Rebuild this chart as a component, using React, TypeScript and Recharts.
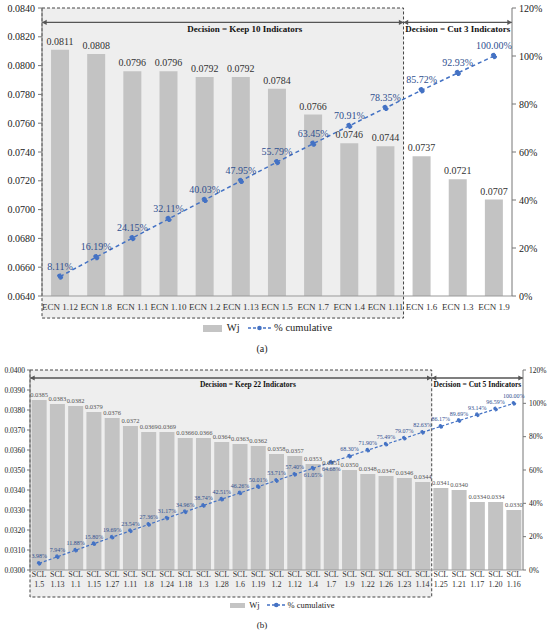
import {
  Bar,
  ComposedChart,
  LabelList,
  Line,
  ReferenceArea,
  XAxis,
  YAxis,
} from 'recharts';

const FONT = '"Liberation Serif", "Times New Roman", serif';

// (a) ECN indicators
const ecnNames = [
  'ECN 1.12', 'ECN 1.8', 'ECN 1.1', 'ECN 1.10', 'ECN 1.2', 'ECN 1.13', 'ECN 1.5',
  'ECN 1.7', 'ECN 1.4', 'ECN 1.11', 'ECN 1.6', 'ECN 1.3', 'ECN 1.9',
];
const ecnWeights = [
  0.0811, 0.0808, 0.0796, 0.0796, 0.0792, 0.0792, 0.0784, 0.0766, 0.0746, 0.0744,
  0.0737, 0.0721, 0.0707,
];
const ecnCumulative = [
  8.11, 16.19, 24.15, 32.11, 40.03, 47.95, 55.79, 63.45, 70.91, 78.35, 85.72, 92.93, 100.0,
];
const ecnLeftTicks = [0.064, 0.066, 0.068, 0.07, 0.072, 0.074, 0.076, 0.078, 0.08, 0.082, 0.084];

// (b) SCL indicators
const sclNames = [
  'SCL 1.5', 'SCL 1.13', 'SCL 1.1', 'SCL 1.15', 'SCL 1.27', 'SCL 1.11', 'SCL 1.8',
  'SCL 1.24', 'SCL 1.18', 'SCL 1.3', 'SCL 1.28', 'SCL 1.6', 'SCL 1.19', 'SCL 1.2',
  'SCL 1.12', 'SCL 1.4', 'SCL 1.7', 'SCL 1.9', 'SCL 1.22', 'SCL 1.26', 'SCL 1.23',
  'SCL 1.14', 'SCL 1.25', 'SCL 1.21', 'SCL 1.17', 'SCL 1.20', 'SCL 1.16',
];
const sclWeights = [
  0.0385, 0.0383, 0.0382, 0.0379, 0.0376, 0.0372, 0.0369, 0.0369, 0.0366, 0.0366,
  0.0364, 0.0363, 0.0362, 0.0358, 0.0357, 0.0353, 0.0351, 0.035, 0.0348, 0.0347,
  0.0346, 0.0344, 0.0341, 0.034, 0.0334, 0.0334, 0.033,
];
const sclCumulative = [
  3.98, 7.94, 11.88, 15.8, 19.69, 23.54, 27.36, 31.17, 34.96, 38.74, 42.51, 46.26,
  50.01, 53.71, 57.4, 61.05, 64.68, 68.3, 71.9, 75.49, 79.07, 82.63, 86.17, 89.69,
  93.14, 96.59, 100.0,
];
const sclLeftTicks = [0.03, 0.031, 0.032, 0.033, 0.034, 0.035, 0.036, 0.037, 0.038, 0.039, 0.04];
const pctTicks = [0, 20, 40, 60, 80, 100, 120];
const sclLabelsBelow = [15, 16];

const ecnData = ecnNames.map((name, i) => ({ name, w: ecnWeights[i], cum: ecnCumulative[i] }));
const sclData = sclNames.map((name, i) => ({ name, w: sclWeights[i], cum: sclCumulative[i] }));

const BLUE = '#4472c4';
const BLUE_TEXT = '#2f4f8f';

function DecisionArrow(props: any) {
  const { x, y, width, height, text, dx, fontSize } = props;
  const cy = y + height / 2;
  const x2 = x + width;
  const h = 2.6;
  return (
    <g>
      <line x1={x} y1={cy} x2={x2} y2={cy} stroke="#555" strokeWidth={1.4} />
      <path d={`M${x},${cy} l${h * 1.8},${-h} l0,${2 * h} Z`} fill="#555" />
      <path d={`M${x2},${cy} l${-h * 1.8},${-h} l0,${2 * h} Z`} fill="#555" />
      <text
        x={x + width / 2 + dx}
        y={cy + fontSize + 1}
        textAnchor="middle"
        fontWeight="bold"
        fontSize={fontSize}
        fontFamily={FONT}
        fill="#111"
      >
        {text}
      </text>
    </g>
  );
}

function SclTick(props: any) {
  const { x, y, payload } = props;
  const [a, b] = String(payload.value).split(' ');
  return (
    <text x={x} y={y} textAnchor="middle" fontSize={8} fill="#333" fontFamily={FONT}>
      <tspan x={x} dy={7}>{a}</tspan>
      <tspan x={x} dy={10}>{b}</tspan>
    </text>
  );
}

function sclCumLabel(props: any) {
  const { x, y, value, index } = props;
  const below = sclLabelsBelow.includes(index);
  return (
    <text
      x={x}
      y={below ? y + 9 : y - 5}
      textAnchor="middle"
      fontSize={6}
      fill={BLUE_TEXT}
      fontFamily={FONT}
    >
      {`${Number(value).toFixed(2)}%`}
    </text>
  );
}

function LegendRow(props: { left: number; top: number; size: number }) {
  const { left, top, size } = props;
  const s = size / 11;
  return (
    <div
      style={{
        position: 'absolute',
        left,
        top,
        display: 'flex',
        alignItems: 'center',
        fontFamily: FONT,
        fontSize: size,
        color: '#222',
        lineHeight: 1,
      }}
    >
      <span style={{ width: 20 * s, height: 7 * s, background: '#c4c4c4', display: 'inline-block' }} />
      <span style={{ marginLeft: 5 * s }}>Wj</span>
      <svg width={24 * s} height={8} style={{ marginLeft: 9 * s }}>
        <line x1={0} y1={4} x2={24 * s} y2={4} stroke={BLUE} strokeWidth={1.5} strokeDasharray="3 2" />
        <circle cx={12 * s} cy={4} r={2.3} fill={BLUE} />
      </svg>
      <span style={{ marginLeft: 3 * s }}>% cumulative</span>
    </div>
  );
}

export default function App() {
  return (
    <div style={{ position: 'absolute', left: 0, top: 0, width: 550, height: 634, background: '#fff' }}>
      <div style={{ position: 'absolute', left: 0, top: 0 }}>
        <ComposedChart
          width={550}
          height={320}
          data={ecnData}
          margin={{ top: 8, right: 0, left: 0, bottom: 0 }}
          barCategoryGap="25%"
        >
          <ReferenceArea
            yAxisId="left"
            x1="ECN 1.12"
            x2="ECN 1.11"
            y1={0.06247}
            y2={0.084}
            ifOverflow="visible"
            fill="#eeeeee"
            fillOpacity={1}
            stroke="#444"
            strokeWidth={1}
            strokeDasharray="3 2"
          />
          <XAxis
            dataKey="name"
            height={24}
            tickLine={false}
            axisLine={{ stroke: '#999' }}
            interval={0}
            tick={{ fontSize: 9, fill: '#333', fontFamily: FONT }}
          />
          <YAxis
            yAxisId="left"
            width={42}
            domain={[0.064, 0.084]}
            ticks={ecnLeftTicks}
            tickFormatter={(v: number) => v.toFixed(4)}
            tickSize={4}
            tickMargin={3}
            axisLine={{ stroke: '#777' }}
            tickLine={{ stroke: '#777' }}
            tick={{ fontSize: 10, fill: '#222', fontFamily: FONT }}
          />
          <YAxis
            yAxisId="right"
            orientation="right"
            width={38}
            domain={[0, 120]}
            ticks={pctTicks}
            tickFormatter={(v: number) => `${v}%`}
            tickSize={4}
            tickMargin={3}
            axisLine={{ stroke: '#777' }}
            tickLine={{ stroke: '#777' }}
            tick={{ fontSize: 10, fill: '#222', fontFamily: FONT }}
          />
          <ReferenceArea
            yAxisId="left"
            x1="ECN 1.12"
            x2="ECN 1.11"
            y1={0.0826}
            y2={0.0834}
            ifOverflow="visible"
            shape={(p: any) => (
              <DecisionArrow {...p} text="Decision = Keep 10 Indicators" dx={22} fontSize={9} />
            )}
          />
          <ReferenceArea
            yAxisId="left"
            x1="ECN 1.6"
            x2="ECN 1.9"
            y1={0.0826}
            y2={0.0834}
            ifOverflow="visible"
            shape={(p: any) => (
              <DecisionArrow {...p} text="Decision = Cut 3 Indicators" dx={0} fontSize={9} />
            )}
          />
          <Bar yAxisId="left" dataKey="w" fill="#c3c3c3" isAnimationActive={false}>
            <LabelList
              dataKey="w"
              position="top"
              offset={5}
              formatter={(v: any) => Number(v).toFixed(4)}
              style={{ fontSize: 10, fill: '#333', fontFamily: FONT }}
            />
          </Bar>
          <Line
            yAxisId="right"
            dataKey="cum"
            stroke={BLUE}
            strokeWidth={1.5}
            strokeDasharray="4 3"
            dot={{ r: 2.4, fill: BLUE, stroke: BLUE }}
            isAnimationActive={false}
          >
            <LabelList
              dataKey="cum"
              position="top"
              offset={7}
              formatter={(v: any) => `${Number(v).toFixed(2)}%`}
              style={{ fontSize: 10, fill: BLUE_TEXT, fontFamily: FONT }}
            />
          </Line>
        </ComposedChart>
      </div>
      <LegendRow left={203} top={323} size={10.5} />
      <div
        style={{
          position: 'absolute',
          left: 0,
          top: 343,
          width: 524,
          textAlign: 'center',
          fontFamily: FONT,
          fontSize: 10,
          color: '#222',
        }}
      >
        (a)
      </div>

      <div style={{ position: 'absolute', left: 0, top: 362 }}>
        <ComposedChart
          width={550}
          height={238}
          data={sclData}
          margin={{ top: 8, right: 0, left: 0, bottom: 0 }}
          barCategoryGap="9%"
        >
          <ReferenceArea
            yAxisId="left"
            x1="SCL 1.5"
            x2="SCL 1.14"
            y1={0.02865}
            y2={0.04}
            ifOverflow="visible"
            fill="#eeeeee"
            fillOpacity={1}
            stroke="#444"
            strokeWidth={1}
            strokeDasharray="3 2"
          />
          <XAxis
            dataKey="name"
            height={30}
            tickLine={false}
            axisLine={{ stroke: '#999' }}
            interval={0}
            tickSize={0}
            tickMargin={0}
            tick={<SclTick />}
          />
          <YAxis
            yAxisId="left"
            width={30}
            domain={[0.03, 0.04]}
            ticks={sclLeftTicks}
            tickFormatter={(v: number) => v.toFixed(4)}
            tickSize={3}
            tickMargin={2}
            axisLine={{ stroke: '#777' }}
            tickLine={{ stroke: '#777' }}
            tick={{ fontSize: 7.5, fill: '#222', fontFamily: FONT }}
          />
          <YAxis
            yAxisId="right"
            orientation="right"
            width={27}
            domain={[0, 120]}
            ticks={pctTicks}
            tickFormatter={(v: number) => `${v}%`}
            tickSize={3}
            tickMargin={3}
            axisLine={{ stroke: '#777' }}
            tickLine={{ stroke: '#777' }}
            tick={{ fontSize: 7.5, fill: '#222', fontFamily: FONT }}
          />
          <ReferenceArea
            yAxisId="left"
            x1="SCL 1.5"
            x2="SCL 1.14"
            y1={0.0394}
            y2={0.0398}
            ifOverflow="visible"
            shape={(p: any) => (
              <DecisionArrow {...p} text="Decision = Keep 22 Indicators" dx={17} fontSize={7.5} />
            )}
          />
          <ReferenceArea
            yAxisId="left"
            x1="SCL 1.25"
            x2="SCL 1.16"
            y1={0.0394}
            y2={0.0398}
            ifOverflow="visible"
            shape={(p: any) => (
              <DecisionArrow {...p} text="Decision = Cut 5 Indicators" dx={0} fontSize={7.5} />
            )}
          />
          <Bar yAxisId="left" dataKey="w" fill="#c3c3c3" isAnimationActive={false}>
            <LabelList
              dataKey="w"
              position="top"
              offset={3}
              formatter={(v: any) => Number(v).toFixed(4)}
              style={{ fontSize: 6.5, fill: '#555', fontFamily: FONT }}
            />
          </Bar>
          <Line
            yAxisId="right"
            dataKey="cum"
            stroke={BLUE}
            strokeWidth={1.2}
            strokeDasharray="3 2"
            dot={{ r: 1.8, fill: BLUE, stroke: BLUE }}
            isAnimationActive={false}
          >
            <LabelList dataKey="cum" content={sclCumLabel} />
          </Line>
        </ComposedChart>
      </div>
      <LegendRow left={230} top={601} size={8.5} />
      <div
        style={{
          position: 'absolute',
          left: 0,
          top: 620,
          width: 524,
          textAlign: 'center',
          fontFamily: FONT,
          fontSize: 9,
          color: '#222',
        }}
      >
        (b)
      </div>
    </div>
  );
}
